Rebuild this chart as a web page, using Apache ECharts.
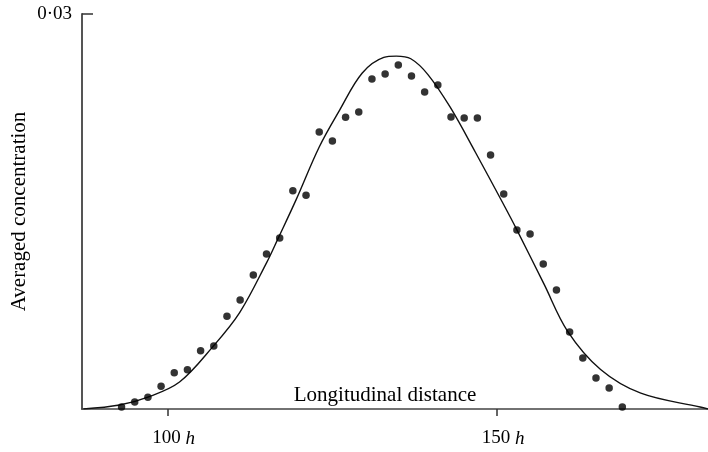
<!DOCTYPE html>
<html>
<head>
<meta charset="utf-8">
<script src="https://cdn.jsdelivr.net/npm/echarts@6/dist/echarts.min.js"></script>
<style>
  html, body { margin: 0; padding: 0; background: #fff; }
  #chart { width: 708px; height: 452px; }
</style>
</head>
<body>
<div id="chart"></div>
<script>
// measured points (distance in units of h)
var dotX = [93, 95, 97, 99, 101, 103, 105, 107, 109, 111, 113, 115, 117, 119, 121, 123, 125, 127, 129, 131,
  133, 135, 137, 139, 141, 143, 145, 147, 149, 151, 153, 155, 157, 159, 161, 163, 165, 167, 169];
var dotY = [0.00015, 0.00053, 0.00089, 0.00172, 0.00276, 0.00298, 0.00443, 0.00478, 0.00704, 0.00828,
  0.01018, 0.01177, 0.01299, 0.01658, 0.01623, 0.02104, 0.02035, 0.02215, 0.02256, 0.02506,
  0.02544, 0.02613, 0.02529, 0.02408, 0.02461, 0.02218, 0.0221, 0.0221, 0.01929, 0.01633,
  0.0136, 0.01329, 0.01101, 0.00904, 0.00585, 0.00387, 0.00235, 0.0016, 0.00015];

// theoretical curve
var curveX = [87.2, 92.7, 97, 101.8, 106.8, 110.9, 115, 116.8, 119.5, 123, 126.1, 129.5, 132.8, 134.7,
  136.9, 139.5, 142.9, 146.7, 150.8, 152.9, 157.1, 160.7, 165.7, 171.8, 180.8, 182];
var curveY = [0, 0.0003, 0.0009, 0.00205, 0.0047, 0.0073, 0.0111, 0.013, 0.0159, 0.0199, 0.0227, 0.0255,
  0.0267, 0.0268, 0.0266, 0.0254, 0.0229, 0.0195, 0.0157, 0.0137, 0.0095, 0.0059, 0.003, 0.0012, 0.00015, 0];

var xTicks = [100, 150];
var yTicks = [0.03];

var font = '"Liberation Serif", "DejaVu Serif", serif';

var chart = echarts.init(document.getElementById('chart'));

var option = {
	backgroundColor: '#fff',
	animation: false,
	grid: {
		left: 82,
		right: 0,
		top: 14,
		bottom: 43,
		containLabel: false,
		outerBoundsMode: 'none'
	},
	xAxis: {
		type: 'value',
		min: 87,
		max: 182,
		name: 'Longitudinal distance',
		nameLocation: 'middle',
		nameGap: -14,
		nameMoveOverlap: false,
		nameTextStyle: {
			fontFamily: font,
			fontSize: 21,
			color: '#000',
			verticalAlign: 'middle',
			padding: [0, 20, 0, 0]
		},
		splitLine: { show: false },
		axisLine: { lineStyle: { color: '#444', width: 1.6 } },
		axisTick: {
			customValues: xTicks,
			inside: false,
			length: 7,
			lineStyle: { color: '#333', width: 1.5 }
		},
		axisLabel: {
			customValues: xTicks,
			margin: 20,
			padding: [0, 0, 0, 12],
			fontFamily: font,
			fontSize: 19,
			color: '#000',
			formatter: function (v) {
				return '{n|' + v + '}{h| h}';
			},
			rich: {
				n: { fontFamily: font, fontSize: 19, color: '#000' },
				h: { fontFamily: font, fontSize: 19, fontStyle: 'italic', color: '#000' }
			}
		}
	},
	yAxis: {
		type: 'value',
		min: 0,
		max: 0.03,
		name: 'Averaged concentration',
		nameLocation: 'middle',
		nameGap: 52,
		nameMoveOverlap: false,
		nameTextStyle: {
			fontFamily: font,
			fontSize: 21,
			color: '#000'
		},
		splitLine: { show: false },
		axisLine: { lineStyle: { color: '#555', width: 2 } },
		axisTick: {
			customValues: yTicks,
			inside: true,
			length: 11,
			lineStyle: { color: '#333', width: 1.5 }
		},
		axisLabel: {
			customValues: yTicks,
			margin: 10,
			fontFamily: font,
			fontSize: 19,
			color: '#000',
			formatter: function () {
				return '0·03';
			}
		}
	},
	series: [
		{
			type: 'line',
			data: curveX.map(function (x, i) { return [x, curveY[i]]; }),
			smooth: 0.35,
			showSymbol: false,
			lineStyle: { color: '#111', width: 1.4 },
			z: 2
		},
		{
			type: 'scatter',
			data: dotX.map(function (x, i) { return [x, dotY[i]]; }),
			symbol: 'circle',
			symbolSize: 7.5,
			itemStyle: { color: '#000' },
			z: 3
		}
	]
};

chart.setOption(option);
</script>
</body>
</html>
